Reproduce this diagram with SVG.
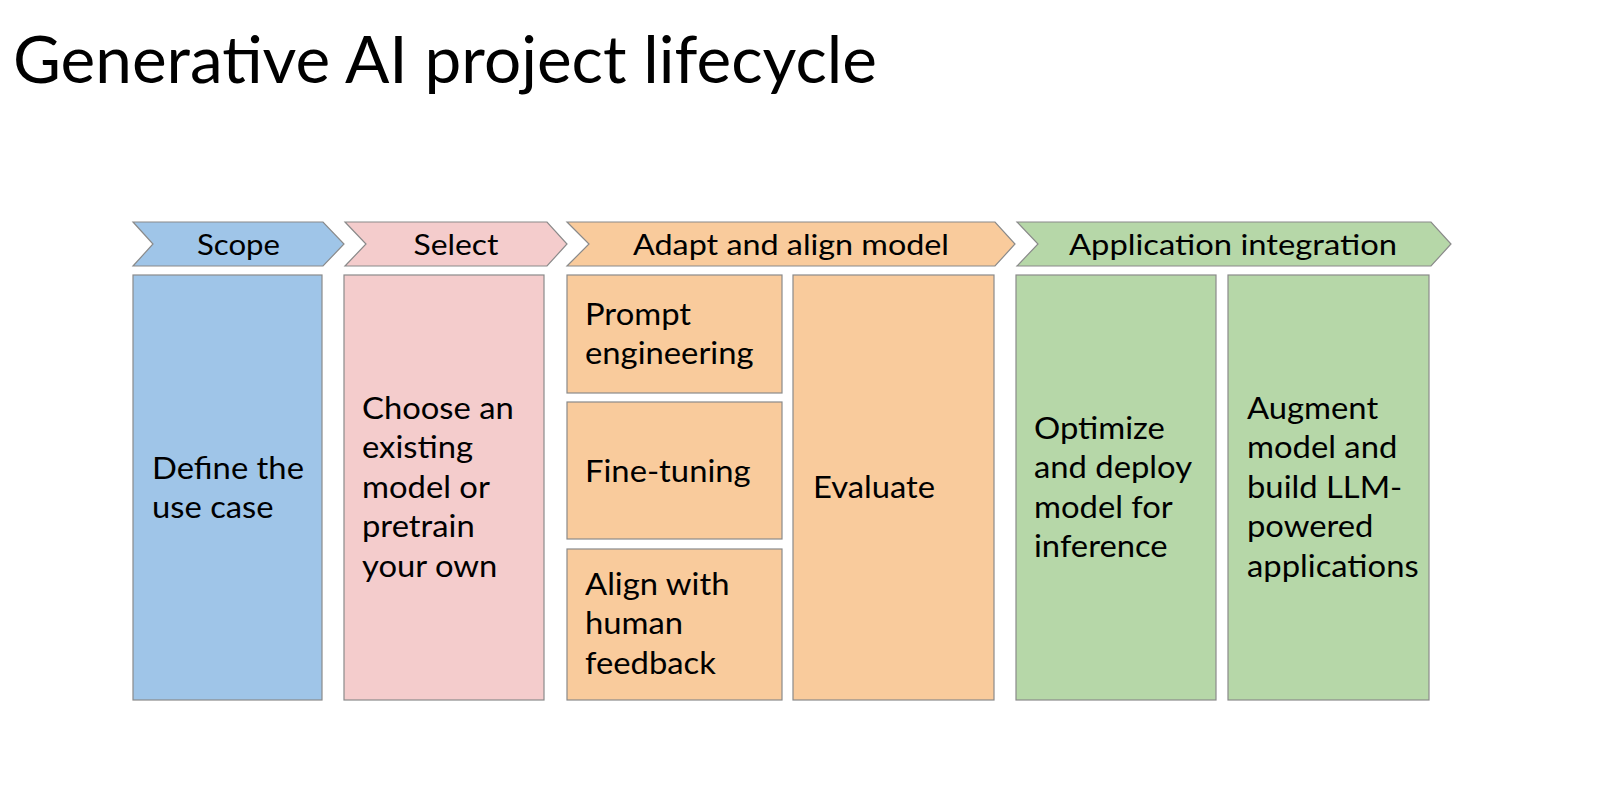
<svg xmlns="http://www.w3.org/2000/svg" width="1600" height="793" viewBox="0 0 1600 793">
<style>
text{font-family:Lato,"Liberation Sans",sans-serif;fill:#000}
.title{font-size:66px}
.lab{font-size:29px;text-anchor:middle}
.t{font-size:30.5px}
.sh{stroke:#8a8a8a;stroke-width:1.2}
.blue{fill:#9fc5e8}.pink{fill:#f4cccc}.orange{fill:#f9cb9c}.green{fill:#b6d7a8}
</style>
<rect width="1600" height="793" fill="#fff"/>
<text class="title" x="13" y="83" textLength="864" lengthAdjust="spacingAndGlyphs">Generative AI project lifecycle</text>
<g id="stage-scope">
<polygon class="sh blue" points="133,222 323,222 344,244 323,266 133,266 153,244"/>
<text class="lab" x="238.5" y="255" textLength="83" lengthAdjust="spacingAndGlyphs">Scope</text>
</g>
<g id="stage-select">
<polygon class="sh pink" points="345,222 547,222 567,244 547,266 345,266 366,244"/>
<text class="lab" x="456" y="255" textLength="85" lengthAdjust="spacingAndGlyphs">Select</text>
</g>
<g id="stage-adapt">
<polygon class="sh orange" points="567,222 995,222 1015,244 995,266 567,266 589,244"/>
<text class="lab" x="791" y="255" textLength="316" lengthAdjust="spacingAndGlyphs">Adapt and align model</text>
</g>
<g id="stage-app">
<polygon class="sh green" points="1017,222 1431,222 1451,244 1431,266 1017,266 1038,244"/>
<text class="lab" x="1233" y="255" textLength="328" lengthAdjust="spacingAndGlyphs">Application integration</text>
</g>
<g id="define">
<rect class="sh blue" x="133" y="275" width="189" height="425"/>
<g transform="translate(152 0) scale(1.075 1)">
<text class="t" x="0" y="479">Define the</text>
<text class="t" x="0" y="518.5">use case</text>
</g>
</g>
<g id="choose">
<rect class="sh pink" x="344" y="275" width="200" height="425"/>
<g transform="translate(362 0) scale(1.075 1)">
<text class="t" x="0" y="419">Choose an</text>
<text class="t" x="0" y="458.5">existing</text>
<text class="t" x="0" y="498">model or</text>
<text class="t" x="0" y="537.5">pretrain</text>
<text class="t" x="0" y="577">your own</text>
</g>
</g>
<g id="prompt">
<rect class="sh orange" x="567" y="275" width="215" height="118"/>
<g transform="translate(585 0) scale(1.075 1)">
<text class="t" x="0" y="325">Prompt</text>
<text class="t" x="0" y="364.5">engineering</text>
</g>
</g>
<g id="finetune">
<rect class="sh orange" x="567" y="402" width="215" height="137"/>
<g transform="translate(585 0) scale(1.075 1)">
<text class="t" x="0" y="482">Fine-tuning</text>
</g>
</g>
<g id="align">
<rect class="sh orange" x="567" y="549" width="215" height="151"/>
<g transform="translate(585 0) scale(1.075 1)">
<text class="t" x="0" y="595">Align with</text>
<text class="t" x="0" y="634.5">human</text>
<text class="t" x="0" y="674">feedback</text>
</g>
</g>
<g id="evaluate">
<rect class="sh orange" x="793" y="275" width="201" height="425"/>
<g transform="translate(813 0) scale(1.075 1)">
<text class="t" x="0" y="498">Evaluate</text>
</g>
</g>
<g id="optimize">
<rect class="sh green" x="1016" y="275" width="200" height="425"/>
<g transform="translate(1034 0) scale(1.075 1)">
<text class="t" x="0" y="439">Optimize</text>
<text class="t" x="0" y="478.5">and deploy</text>
<text class="t" x="0" y="518">model for</text>
<text class="t" x="0" y="557.5">inference</text>
</g>
</g>
<g id="augment">
<rect class="sh green" x="1228" y="275" width="201" height="425"/>
<g transform="translate(1247 0) scale(1.075 1)">
<text class="t" x="0" y="419">Augment</text>
<text class="t" x="0" y="458.5">model and</text>
<text class="t" x="0" y="498">build LLM-</text>
<text class="t" x="0" y="537.5">powered</text>
<text class="t" x="0" y="577">applications</text>
</g>
</g>
<g id="connectors"></g>
</svg>
